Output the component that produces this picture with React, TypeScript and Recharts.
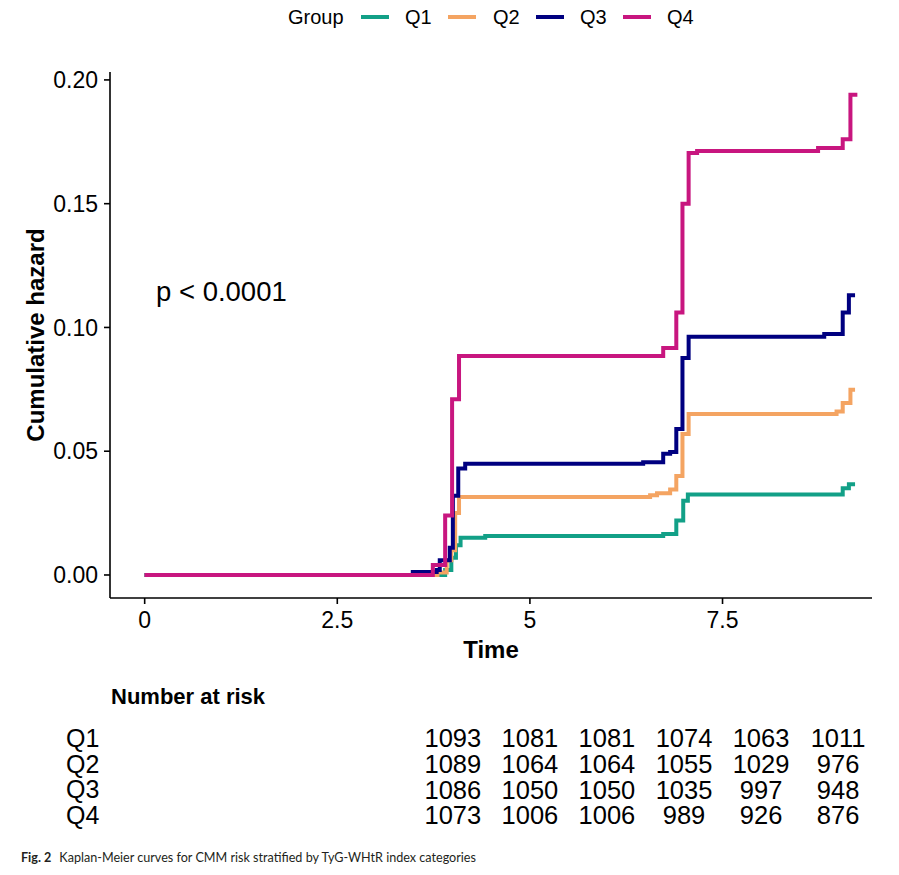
import { LineChart, Line, XAxis, YAxis, ScatterChart, Scatter } from 'recharts'

const FONT = '"Liberation Sans", Arial, Helvetica, sans-serif'

const GROUPS = ['Q1', 'Q2', 'Q3', 'Q4']
const COLORS = ['#12a087', '#f4a462', '#000080', '#c8167f']

// step curves
const q1Time = [0, 3.9, 3.98, 4.04, 4.1, 4.42, 6.73, 6.9, 6.99, 7.05, 9.06, 9.14, 9.22]
const q1Hazard = [0, 0.002, 0.007, 0.012, 0.015, 0.0157, 0.0166, 0.022, 0.03, 0.0325, 0.035, 0.0367, 0.0367]

const q2Time = [0, 3.8, 3.92, 3.98, 4.03, 4.08, 6.56, 6.65, 6.82, 6.9, 6.98, 7.06, 8.98, 9.06, 9.16, 9.22]
const q2Hazard = [0, 0.001, 0.006, 0.01, 0.025, 0.0315, 0.0322, 0.033, 0.0345, 0.04, 0.057, 0.065, 0.066, 0.0695, 0.0748, 0.0748]

const q3Time = [0, 3.48, 3.79, 3.83, 3.96, 4.0, 4.07, 4.16, 6.47, 6.73, 6.82, 6.9, 6.98, 7.06, 8.82, 9.06, 9.14, 9.22]
const q3Hazard = [0, 0.0012, 0.002, 0.006, 0.011, 0.032, 0.043, 0.0449, 0.0455, 0.049, 0.0497, 0.059, 0.0877, 0.0962, 0.0974, 0.106, 0.113, 0.113]

const q4Time = [0, 3.74, 3.9, 3.99, 4.08, 6.73, 6.9, 6.98, 7.06, 7.17, 8.74, 9.06, 9.16, 9.25]
const q4Hazard = [0, 0.004, 0.024, 0.071, 0.0885, 0.0917, 0.106, 0.15, 0.1705, 0.1713, 0.1725, 0.176, 0.194, 0.194]

// number at risk
const RISK_TIMES = [4, 5, 6, 7, 8, 9]
const q1Risk = [1093, 1081, 1081, 1074, 1063, 1011]
const q2Risk = [1089, 1064, 1064, 1055, 1029, 976]
const q3Risk = [1086, 1050, 1050, 1035, 997, 948]
const q4Risk = [1073, 1006, 1006, 989, 926, 876]

const X_TICKS = [0, 2.5, 5, 7.5]
const Y_TICKS = [0, 0.05, 0.1, 0.15, 0.2]
const X_DOMAIN: [number, number] = [-0.45, 9.44]

const toSeries = (t: number[], h: number[]) => t.map((time, i) => ({ time, hazard: h[i] }))
const SERIES = [
  toSeries(q1Time, q1Hazard),
  toSeries(q2Time, q2Hazard),
  toSeries(q3Time, q3Hazard),
  toSeries(q4Time, q4Hazard),
]

const RISK_ROWS = [q1Risk, q2Risk, q3Risk, q4Risk]
const riskData = RISK_ROWS.flatMap((row, r) =>
  row.map((n, i) => ({ time: RISK_TIMES[i], row: r, n })),
)

const axisStyle = { stroke: '#000', strokeWidth: 1.6 }

function RiskTick(props: { y?: number; payload?: { value: number } }) {
  const { y = 0, payload } = props
  return (
    <text x={66} y={y} dy="0.36em" fill="#000" fontSize={25} fontFamily={FONT} textAnchor="start">
      {GROUPS[payload?.value ?? 0]}
    </text>
  )
}

function RiskCell(props: { cx?: number; cy?: number; payload?: { n: number } }) {
  const { cx = 0, cy = 0, payload } = props
  return (
    <text x={cx} y={cy} dy="0.36em" fill="#000" fontSize={25.5} fontFamily={FONT} textAnchor="middle">
      {payload?.n}
    </text>
  )
}

const legendItems = [
  { sx: 361, tx: 405 },
  { sx: 448, tx: 493 },
  { sx: 536, tx: 580 },
  { sx: 623, tx: 667 },
]

export default function App() {
  return (
    <div style={{ position: 'absolute', left: 0, top: 0, width: 899, height: 875, background: '#fff', fontFamily: FONT }}>
      <div style={{ position: 'absolute', left: 0, top: 0 }}>
        <LineChart width={899} height={680} margin={{ top: 72, right: 27, bottom: 12, left: 0 }}>
          <XAxis
            type="number" dataKey="time" domain={X_DOMAIN} ticks={X_TICKS} allowDataOverflow
            axisLine={axisStyle} tickLine={axisStyle} tickSize={6} tickMargin={8} height={70}
            tick={{ fill: '#000', fontSize: 23, fontFamily: FONT }}
            tickFormatter={(v: number) => String(v)}
            label={{ value: 'Time', position: 'insideBottom', offset: 10, fill: '#000', fontSize: 24, fontWeight: 'bold', fontFamily: FONT }}
          />
          <YAxis
            type="number" domain={[-0.0093, 0.2032]} ticks={Y_TICKS} allowDataOverflow width={110}
            axisLine={axisStyle} tickLine={axisStyle} tickSize={6} tickMargin={6}
            tick={{ fill: '#000', fontSize: 23, fontFamily: FONT }}
            tickFormatter={(v: number) => v.toFixed(2)}
            label={({ viewBox }: { viewBox?: { x: number; y: number; height: number } }) => {
              const vb = viewBox ?? { x: 0, y: 0, height: 0 }
              const cy = vb.y + vb.height / 2
              return (
                <text x={35} y={cy} transform={`rotate(-90 35 ${cy})`} dy="0.36em" textAnchor="middle"
                  fill="#000" fontSize={24} fontWeight="bold" fontFamily={FONT}>
                  Cumulative hazard
                </text>
              )
            }}
          />
          {SERIES.map((d, i) => (
            <Line
              key={GROUPS[i]} data={d} dataKey="hazard" name={GROUPS[i]} type="stepAfter"
              stroke={COLORS[i]} strokeWidth={4} dot={false} isAnimationActive={false}
            />
          ))}
        </LineChart>
      </div>

      <div style={{ position: 'absolute', left: 0, top: 680 }}>
        <ScatterChart width={899} height={160} margin={{ top: 45, right: 27, bottom: 12, left: 0 }}>
          <XAxis type="number" dataKey="time" domain={X_DOMAIN} allowDataOverflow hide />
          <YAxis
            type="number" dataKey="row" domain={[-0.5, 3.5]} ticks={[0, 1, 2, 3]} reversed allowDataOverflow
            width={110} axisLine={false} tickLine={false} tick={<RiskTick />}
          />
          <Scatter data={riskData} shape={<RiskCell />} isAnimationActive={false} />
        </ScatterChart>
      </div>

      <svg width={899} height={875} style={{ position: 'absolute', left: 0, top: 0, pointerEvents: 'none' }}>
        <text x={288} y={17} dy="0.35em" fontSize={20} fill="#000" fontFamily={FONT}>Group</text>
        {legendItems.map((it, i) => (
          <g key={GROUPS[i]}>
            <line x1={it.sx} x2={it.sx + 28} y1={17} y2={17} stroke={COLORS[i]} strokeWidth={4} />
            <text x={it.tx} y={17} dy="0.35em" fontSize={20} fill="#000" fontFamily={FONT}>{GROUPS[i]}</text>
          </g>
        ))}
        <text x={156} y={291} dy="0.35em" fontSize={27.5} fill="#000" fontFamily={FONT}>p &lt; 0.0001</text>
        <text x={111} y={696} dy="0.35em" fontSize={22} fontWeight="bold" fill="#000" fontFamily={FONT}>Number at risk</text>
        <text x={21} y={862} fontSize={12.6} fill="#231f20" fontFamily="Lato, 'Open Sans', sans-serif">
          <tspan fontWeight="bold">Fig. 2</tspan>
          <tspan dx={8}>Kaplan-Meier curves for CMM risk stratified by TyG-WHtR index categories</tspan>
        </text>
      </svg>
    </div>
  )
}
